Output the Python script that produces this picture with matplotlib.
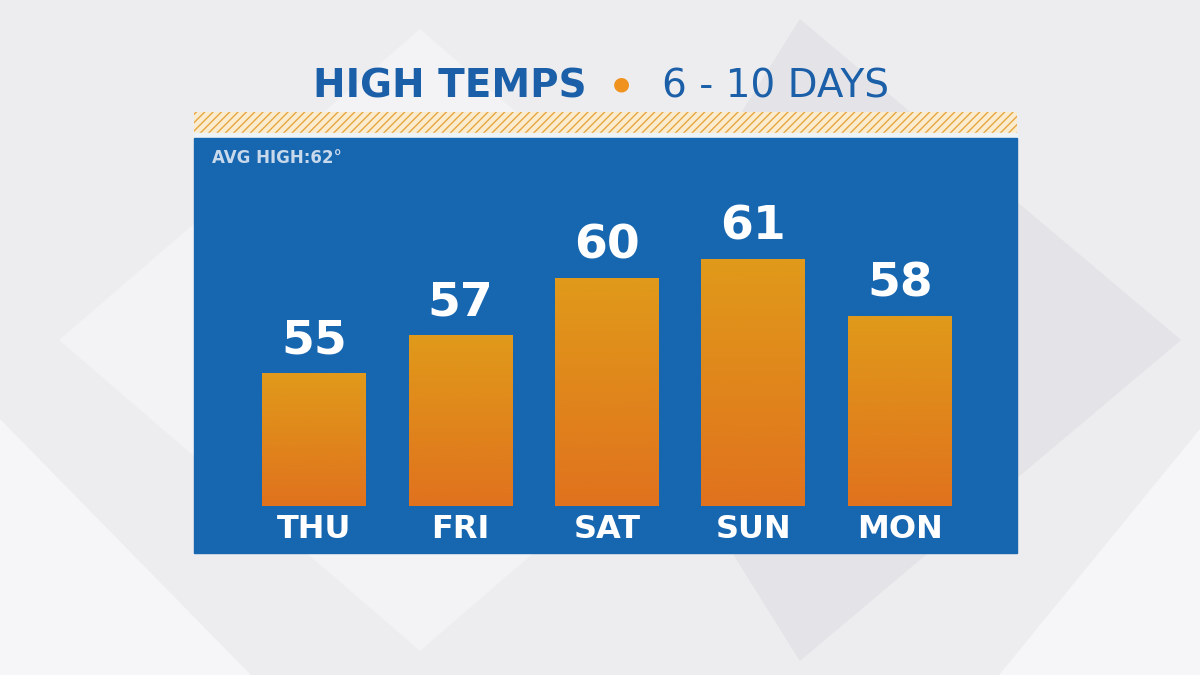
import matplotlib.pyplot as plt
import numpy as np
from matplotlib.patches import Rectangle, Polygon
from matplotlib.colors import LinearSegmentedColormap

days = ["THU", "FRI", "SAT", "SUN", "MON"]
highs = [55, 57, 60, 61, 58]
avg_high = 62

W, H = 1200, 675
fig = plt.figure(figsize=(12, 6.75), dpi=100)

# background with soft diamonds
bg = fig.add_axes([0, 0, 1, 1])
bg.set_xlim(0, W)
bg.set_ylim(H, 0)
bg.axis("off")
bg.add_patch(Rectangle((0, 0), W, H, color="#ededef"))
bg.add_patch(Polygon([(420, 30), (780, 340), (420, 650), (60, 340)], color="#f3f3f5"))
bg.add_patch(Polygon([(800, 20), (1180, 340), (800, 660), (600, 340)], color="#e4e4e8"))
bg.add_patch(Polygon([(0, 420), (250, 675), (0, 675)], color="#f6f6f8"))
bg.add_patch(Polygon([(1200, 430), (1000, 675), (1200, 675)], color="#f6f6f8"))

# title
fig.text(450 / W, 1 - 86 / H, "HIGH TEMPS", color="#1a5fa8", fontsize=28,
         fontweight="bold", ha="center", va="center")
fig.text(621 / W, 1 - 84 / H, "\u25CF", color="#f0921e", fontsize=14,
         ha="center", va="center")
fig.text(775 / W, 1 - 86 / H, "6 - 10 DAYS", color="#1a5fa8", fontsize=28,
         ha="center", va="center")

# hatched strip
bg.add_patch(Rectangle((194, 112), 823, 21, facecolor="#fbecd0", edgecolor="#e5a640",
                       hatch="////", linewidth=0))
bg.add_patch(Rectangle((194, 133), 823, 5, color="#eef3f8"))
# blue panel
bg.add_patch(Rectangle((194, 138), 823, 415, color="#1766b0"))
bg.text(212, 158, f"AVG HIGH:{avg_high}\u00b0", color="#c9d9ec", fontsize=12,
        fontweight="bold", va="center")

# bar axes
ax = fig.add_axes([194 / W, 1 - 506 / H, 823 / W, 368 / H])
ax.set_xlim(-0.82, 4.80)
ax.set_ylim(48, 67.4)
ax.axis("off")
ax.patch.set_alpha(0)

cmap = LinearSegmentedColormap.from_list("bar", ["#e0721e", "#e09a1a"])
grad = np.linspace(0, 1, 256).reshape(-1, 1)
x = np.arange(len(days))
bars = ax.bar(x, [h - 48 for h in highs], bottom=48, width=0.71, color="none")
for b, h, d in zip(bars, highs, days):
    x0 = b.get_x()
    im = ax.imshow(grad, cmap=cmap, aspect="auto", origin="lower",
                   extent=[x0, x0 + b.get_width(), 48, h], zorder=2)
    im.set_clip_path(b)
    ax.text(b.get_x() + b.get_width() / 2, h + 0.5, str(h), color="white",
            fontsize=34, fontweight="bold", ha="center", va="bottom")
    ax.text(b.get_x() + b.get_width() / 2, 46.75, d, color="white",
            fontsize=23, fontweight="bold", ha="center", va="center", clip_on=False)

fig.savefig("out.png", dpi=100)
